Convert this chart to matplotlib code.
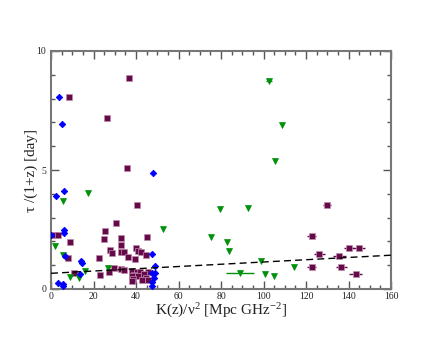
import matplotlib
matplotlib.use("Agg")
import matplotlib.pyplot as plt
import numpy as np
from matplotlib.ticker import MultipleLocator

# ---- data ----
blue_x = [0.2, 3.8, 5.0, 2.2, 6.3, 47.8, 6.1, 6.1, 6.4, 14.3, 14.7, 13.6, 3.3, 5.6, 5.8,
          47.7, 48.9, 47.7, 48.9, 48.6, 47.4, 47.4]
blue_y = [2.27, 8.08, 6.93, 3.92, 4.13, 4.86, 2.46, 2.35, 1.40, 1.18, 1.08, 0.62, 0.27, 0.20, 0.11,
          1.47, 0.95, 0.66, 0.66, 0.45, 0.28, 0.11]

maroon_x = [8.6, 36.5, 26.2, 35.8, 40.5, 30.6, 2.0, 3.3, 25.3, 24.8, 33.1, 45.3, 8.8, 33.1,
            40.2, 40.8, 27.6, 28.5, 32.9, 34.5, 42.4, 44.7, 36.1, 39.5, 22.4, 8.0, 29.6, 33.1,
            34.2, 38.0, 40.5, 41.7, 45.5, 43.9, 27.1, 10.8, 23.2, 38.9, 41.1, 38.0, 44.6, 38.6,
            42.7, 45.5, 38.3,
            129.9, 122.7, 126.3, 140.2, 144.8, 135.7, 122.7, 136.6, 143.4]
maroon_y = [8.08, 8.88, 7.19, 5.07, 3.54, 2.79, 2.27, 2.27, 2.44, 2.12, 2.15, 2.18, 1.96, 1.83,
            1.71, 1.61, 1.63, 1.52, 1.54, 1.54, 1.54, 1.43, 1.33, 1.28, 1.29, 1.32, 0.88, 0.84,
            0.81, 0.76, 0.73, 0.73, 0.70, 0.62, 0.72, 0.66, 0.59, 0.59, 0.55, 0.55, 0.45, 0.41,
            0.38, 0.38, 0.35,
            3.54, 2.23, 1.49, 1.71, 1.71, 1.40, 0.91, 0.91, 0.62]
maroon_xerr = [0.0] * 45 + [2.0, 2.0, 2.5, 2.5, 3.0, 3.0, 2.0, 2.5, 3.0]

green_x = [102.6, 108.6, 105.5, 5.8, 17.5, 92.7, 79.5, 52.9, 75.4, 82.7, 83.8, 1.8, 5.8,
           99.0, 114.5, 27.0, 16.2, 8.9, 13.0, 88.9, 100.8, 105.1]
green_y = [8.74, 6.91, 5.37, 3.69, 4.05, 3.40, 3.38, 2.53, 2.18, 1.99, 1.60, 1.79, 1.43,
           1.19, 0.94, 0.90, 0.77, 0.49, 0.47, 0.67, 0.62, 0.55]
green_xerr = [1.5, 0, 0, 0, 0, 0, 0, 0, 0, 0, 0, 0, 0, 0, 0, 0, 0, 0, 0, 6.5, 0, 0]

fit_intercept = 0.66
fit_slope = 0.00475

x_ticks = [0, 20, 40, 60, 80, 100, 120, 140, 160]
y_ticks = [0, 5, 10]

# ---- style ----
plt.rcParams['font.family'] = ['Liberation Serif', 'DejaVu Serif']
plt.rcParams['mathtext.fontset'] = 'custom'
plt.rcParams['mathtext.rm'] = 'Liberation Serif'
plt.rcParams['mathtext.it'] = 'Liberation Serif:italic'

fig = plt.figure(figsize=(4.4, 3.4), dpi=100)
ax = fig.add_axes([51/440, 1 - 289/340, 340/440, 238/340])

BLUE = '#0000ff'
MAROON = '#650a48'
GREEN = '#00900a'

ax.errorbar(maroon_x, maroon_y, xerr=maroon_xerr, fmt='s', color=MAROON, ms=3.8,
            mec='#c08aae', mew=0.5, elinewidth=1.0, capsize=0, zorder=3)
ax.errorbar(green_x, green_y, xerr=green_xerr, fmt='v', color=GREEN, ms=4.2,
            mec=GREEN, mew=0.5, elinewidth=1.0, capsize=0, zorder=3)
ax.plot(blue_x, blue_y, 'D', color=BLUE, ms=3.3, mec=BLUE, mew=0.6, zorder=4, ls='none')

xf = np.array([0, 160])
ax.plot(xf, fit_intercept + fit_slope * xf, color='black', lw=1.0, ls=(0, (5, 3)), zorder=5)

ax.set_xlim(0, 160)
ax.set_ylim(0, 10)
ax.set_xticks(x_ticks)
ax.set_yticks(y_ticks)
ax.xaxis.set_minor_locator(MultipleLocator(5))
ax.yaxis.set_minor_locator(MultipleLocator(1))
ax.tick_params(which='both', direction='in', top=True, right=True, colors='#555555',
               labelcolor='#222222', labelsize=7, width=1.0)
ax.tick_params(which='major', length=6)
ax.tick_params(which='minor', length=3)
ax.tick_params(axis='x', pad=2)
for s in ax.spines.values():
    s.set_color('#777777')
    s.set_linewidth(1.5)

ax.set_xlabel(r'K(z)/ν$^{2}$ [Mpc GHz$^{-2}$]', fontsize=11, color='#222222', labelpad=1)
ax.set_ylabel(r'τ /(1+z) [day]', fontsize=11, color='#222222', labelpad=-1)

fig.savefig('out.png', dpi=100)
